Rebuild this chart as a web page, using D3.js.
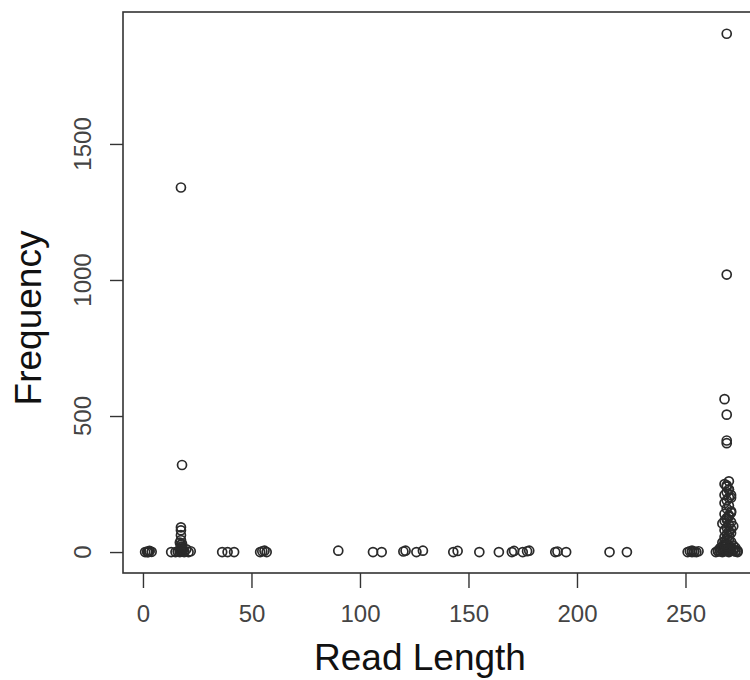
<!DOCTYPE html>
<html>
<head>
<meta charset="utf-8">
<script src="https://cdn.jsdelivr.net/npm/d3@7"></script>
<style>
  body { margin: 0; background: #fff; }
  text { font-family: "Liberation Sans", Arial, sans-serif; }
</style>
</head>
<body>
<svg id="chart" width="750" height="680"></svg>
<script>
// read length / frequency pairs
const readLength = [
  1, 2, 2.5, 3, 4, 2, 3,
  13, 15, 16, 17, 17.5, 17.5, 17.5, 17.5, 17.5, 17.5, 17.5, 17.5, 18, 18, 19, 20, 21, 22,
  17, 18, 17.5, 18, 17, 18.5, 19,
  17.5, 18,
  36.5, 39, 42,
  54, 55, 56, 57,
  90, 106, 110, 120, 121, 126, 129, 143, 145, 155, 164, 170, 171, 175, 177, 178,
  190, 191, 195, 215, 223,
  251, 252, 253, 254, 255, 256, 253, 254,
  264, 265, 266, 267, 268, 269, 270, 271, 272, 273, 274,
  265, 266, 267, 268, 269, 270, 271, 272, 273, 274,
  266, 267, 268, 269, 270, 271, 272, 267, 268, 269, 270, 271, 272, 273,
  268, 269, 270, 271, 268, 269, 270, 271, 269, 270, 268, 271, 269, 270, 268, 269,
  270, 271, 269, 270, 269, 268, 270, 269, 269, 269, 268, 269, 269,
  268, 269, 270, 271, 272, 267, 268, 269, 270, 271, 268, 270, 269, 271
]
const frequency = [
  0, 2, 0, 4, 1, 0, 3,
  0, 0, 2, 0, 91, 80, 62, 44, 26, 12, 7, 3, 20, 5, 0, 10, 0, 3,
  35, 30, 18, 14, 8, 9, 4,
  1340, 320,
  0, 0, 0,
  0, 3, 5, 0,
  5, 0, 0, 2, 5, 0, 5, 0, 4, 0, 0, 0, 4, 0, 3, 5,
  0, 2, 0, 0, 0,
  0, 3, 0, 2, 0, 3, 5, 1,
  0, 2, 5, 0, 3, 8, 0, 4, 10, 2, 0,
  6, 3, 9, 12, 4, 7, 14, 6, 3, 5,
  15, 20, 25, 30, 12, 18, 5, 35, 28, 22, 45, 38, 24, 16,
  40, 50, 60, 70, 80, 90, 100, 110, 120, 130, 140, 150, 160, 170, 180, 190,
  200, 210, 220, 230, 240, 250, 260, 400, 410, 505, 562, 1020, 1905,
  55, 65, 75, 85, 95, 105, 115, 125, 135, 145, 210, 230, 245, 200
]
const xTicks = [0, 50, 100, 150, 200, 250]
const yTicks = [0, 500, 1000, 1500]

const svg = d3.select('#chart')

const x = d3.scaleLinear().domain([-9.2, 281.8]).range([123, 754.5])
const y = d3.scaleLinear().domain([-77, 1985]).range([573, 12])

const axisColor = '#333'

// frame
svg.append('rect')
  .attr('x', x.range()[0])
  .attr('y', y.range()[1])
  .attr('width', x.range()[1] - x.range()[0])
  .attr('height', y.range()[0] - y.range()[1])
  .style('fill', 'none')
  .style('stroke', axisColor)
  .style('stroke-width', 1.6)

// x axis
const gx = svg.append('g')
  .attr('transform', 'translate(0,' + y.range()[0] + ')')
  .call(d3.axisBottom(x).tickValues(xTicks).tickSize(15).tickPadding(17))
gx.select('.domain').remove()
gx.selectAll('line').style('stroke', axisColor).style('stroke-width', 1.4)
gx.selectAll('text')
  .style('font-size', '24px')
  .style('fill', '#444')
  .style('font-family', '"Liberation Sans", Arial, sans-serif')

// y axis, labels parallel to the axis like R does
const gy = svg.append('g')
  .attr('transform', 'translate(' + x.range()[0] + ',0)')
  .call(d3.axisLeft(y).tickValues(yTicks).tickSize(13).tickFormat(''))
gy.select('.domain').remove()
gy.selectAll('line').style('stroke', axisColor).style('stroke-width', 1.4)

svg.append('g').selectAll('text')
  .data(yTicks)
  .join('text')
  .attr('transform', d => 'translate(91,' + y(d) + ')rotate(-90)')
  .attr('text-anchor', 'middle')
  .style('font-size', '24px')
  .style('fill', '#444')
  .text(d => d)

// titles
svg.append('text')
  .attr('x', 420)
  .attr('y', 670)
  .attr('text-anchor', 'middle')
  .style('font-size', '37px')
  .style('fill', '#111')
  .text('Read Length')

svg.append('text')
  .attr('transform', 'translate(41,318)rotate(-90)')
  .attr('text-anchor', 'middle')
  .style('font-size', '37px')
  .style('fill', '#111')
  .text('Frequency')

// points
svg.append('g').selectAll('circle')
  .data(readLength.map((d, i) => [d, frequency[i]]))
  .join('circle')
  .attr('cx', d => x(d[0]))
  .attr('cy', d => y(d[1]))
  .attr('r', 4.5)
  .style('fill', 'none')
  .style('stroke', '#2a2a2a')
  .style('stroke-width', 1.7)
</script>
</body>
</html>
